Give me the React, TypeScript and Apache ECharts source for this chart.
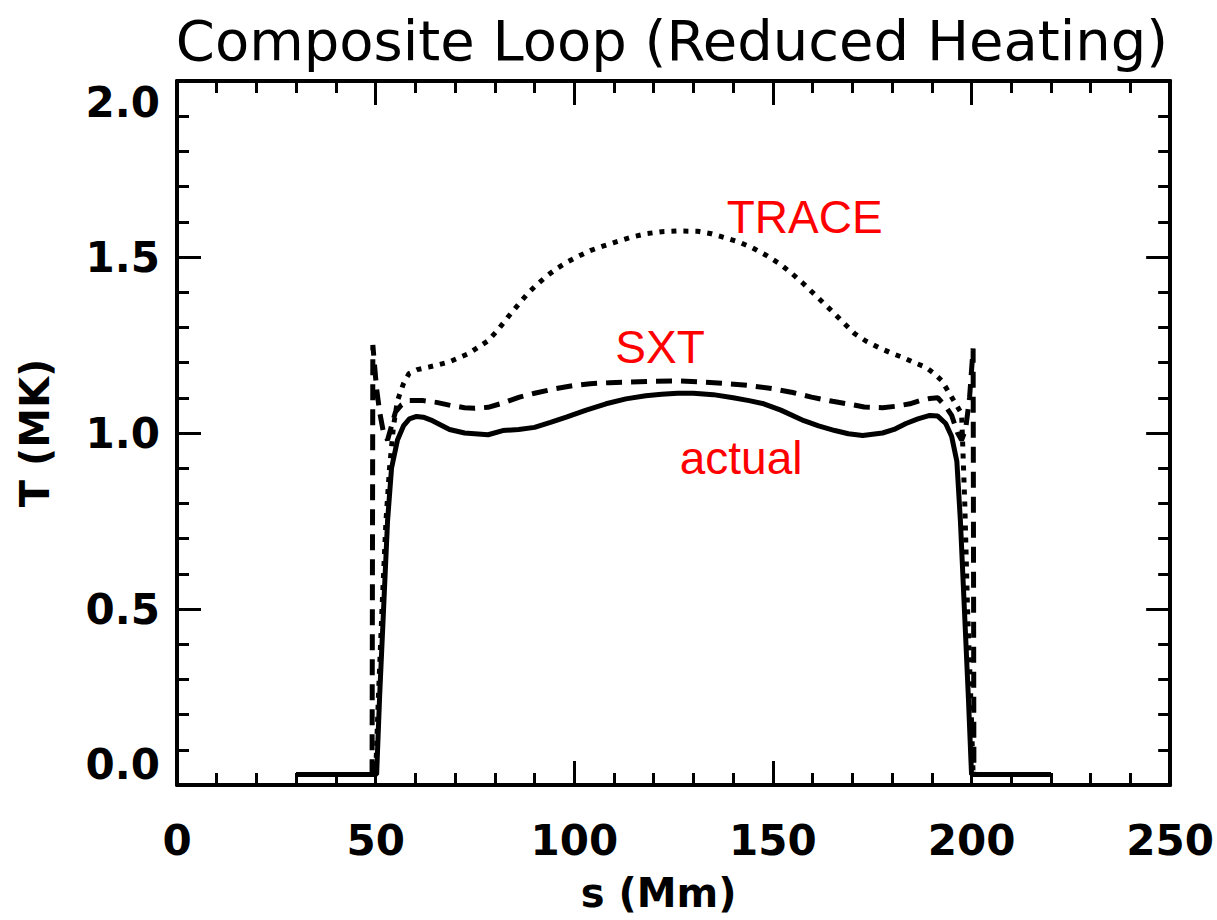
import React, { useEffect, useRef } from "react";
import * as echarts from "echarts";

// s (Mm), T (MK)
const actual: [number, number][] = [
  [30, 0.03], [50.25, 0.03], [51, 0.25], [52, 0.5], [53, 0.75], [54, 0.9], [55.5, 0.98], [57, 1.02],
  [58.5, 1.04], [60.3, 1.047], [62, 1.045], [64.3, 1.035], [68.6, 1.01], [72.4, 1.0], [78.3, 0.995],
  [82, 1.007], [86, 1.01], [90, 1.016], [94, 1.03], [98, 1.045], [103, 1.065], [108, 1.083],
  [113, 1.097], [118, 1.106], [122, 1.11], [126, 1.113], [130, 1.113], [135, 1.109], [140, 1.1],
  [144, 1.092], [147.7, 1.083], [152, 1.065], [157.8, 1.035], [161.5, 1.02], [165.6, 1.007],
  [169, 0.998], [172.6, 0.993], [177.6, 1.0], [180.5, 1.01], [183.5, 1.027], [186.5, 1.04],
  [189.5, 1.05], [191.5, 1.048], [193.5, 1.027], [195, 0.99], [196.3, 0.92], [197.2, 0.75],
  [198.2, 0.5], [199.2, 0.25], [200, 0.03], [220, 0.03],
];

const sxt: [number, number][] = [
  [30, 0.03], [49.1, 0.03], [49.3, 1.25], [50.2, 1.13], [51, 1.06], [52, 1.0], [53, 0.98],
  [54, 1.02], [55, 1.06], [56.5, 1.08], [58.4, 1.092], [62, 1.092], [65.3, 1.087], [69, 1.078],
  [72.4, 1.072], [75, 1.07], [78.3, 1.073], [82, 1.085], [86.2, 1.102], [90, 1.113], [95.2, 1.126],
  [100, 1.135], [104, 1.14], [109, 1.143], [114, 1.145], [120, 1.147], [126, 1.148], [132, 1.145],
  [137.9, 1.141], [144, 1.135], [149.8, 1.126], [155, 1.115], [159.7, 1.102], [165, 1.09],
  [169.6, 1.081], [173, 1.074], [177.6, 1.072], [181, 1.076], [184.5, 1.083], [187, 1.092],
  [189.5, 1.098], [191.5, 1.1], [193.5, 1.075], [195, 1.05], [196.5, 1.0], [197.5, 0.98],
  [198.5, 1.01], [199.5, 1.1], [200.4, 1.24], [200.6, 0.03], [220, 0.03],
];

const trace: [number, number][] = [
  [30, 0.03], [50.0, 0.03], [50.7, 0.25], [51.6, 0.5], [52.6, 0.75], [53.5, 0.9], [54.5, 1.02],
  [55.5, 1.092], [57, 1.14], [58.4, 1.169], [60.5, 1.18], [63.3, 1.187], [68.3, 1.201],
  [73.3, 1.225], [78.3, 1.262], [80.8, 1.293], [83.2, 1.328], [85.7, 1.362], [88.2, 1.395],
  [90.7, 1.423], [93.2, 1.447], [95.7, 1.468], [98.1, 1.485], [101, 1.502], [104, 1.518],
  [107, 1.53], [110, 1.541], [114, 1.555], [118, 1.566], [122, 1.572], [126, 1.574], [131, 1.573],
  [134.5, 1.566], [137.9, 1.555], [141.3, 1.543], [144.7, 1.527], [148.3, 1.505], [151.8, 1.48],
  [154.8, 1.453], [157.7, 1.424], [161.2, 1.386], [164.7, 1.348], [167.7, 1.314], [170.6, 1.282],
  [173.6, 1.26], [176.6, 1.243], [179.6, 1.228], [182.6, 1.215], [185.6, 1.2], [188.5, 1.187],
  [190.5, 1.17], [192.5, 1.149], [195, 1.102], [197.5, 1.055], [198.3, 0.8], [199, 0.5],
  [199.8, 0.25], [200.4, 0.03], [220, 0.03],
];

// annotation labels: [s, T, text]
const annotations: [number, number, string][] = [
  [158, 1.614, "TRACE"],
  [121.6, 1.243, "SXT"],
  [142, 0.928, "actual"],
];

const xTicks = { min: 0, max: 250, interval: 50 };
const yTicks = { min: 0, max: 2, interval: 0.5 };

const FONT = "DejaVu Sans";

export default function App() {
  const ref = useRef<HTMLDivElement>(null);
  useEffect(() => {
    if (!ref.current) return;
    const chart = echarts.init(ref.current, undefined, { renderer: "svg" });
    const axisCommon = {
      axisLine: { show: true, onZero: false, lineStyle: { color: "#000", width: 4 } },
      axisTick: { show: true, inside: true, length: 24, lineStyle: { color: "#000", width: 3 } },
      minorTick: { show: true, splitNumber: 5, length: 12, lineStyle: { color: "#000", width: 3 } },
      splitLine: { show: false },
      minorSplitLine: { show: false },
    };
    const labelStyle = { fontFamily: FONT, fontWeight: "bold" as const, fontSize: 42, color: "#000" };
    chart.setOption({
      animation: false,
      backgroundColor: "#fff",
      grid: { left: 177, right: 45, top: 81, bottom: 135, containLabel: false },
      graphic: [
        {
          type: "text",
          x: 672,
          y: 40,
          style: {
            text: "Composite Loop (Reduced Heating)",
            fontFamily: FONT,
            fontSize: 56,
            fill: "#000",
            textAlign: "center",
            textVerticalAlign: "middle",
          },
        },
      ],
      xAxis: [
        {
          type: "value",
          position: "bottom",
          ...xTicks,
          ...axisCommon,
          axisLabel: { ...labelStyle, margin: 34 },
          name: "s (Mm)",
          nameLocation: "middle",
          nameGap: 88,
          nameTextStyle: { fontFamily: FONT, fontWeight: "bold", fontSize: 40, color: "#000", padding: [0, 30, 0, 0] },
        },
        {
          type: "value",
          position: "top",
          ...xTicks,
          ...axisCommon,
          axisLabel: { show: false },
        },
      ],
      yAxis: [
        {
          type: "value",
          position: "left",
          ...yTicks,
          ...axisCommon,
          axisLabel: {
            ...labelStyle,
            margin: 17,
            formatter: (v: number) => v.toFixed(1),
            verticalAlignMinLabel: "bottom",
            verticalAlignMaxLabel: "top",
          },
          name: "T (MK)",
          nameLocation: "middle",
          nameGap: 122,
          nameTextStyle: { fontFamily: FONT, fontWeight: "bold", fontSize: 40, color: "#000" },
        },
        {
          type: "value",
          position: "right",
          ...yTicks,
          ...axisCommon,
          axisLabel: { show: false },
        },
      ],
      series: [
        {
          type: "line",
          name: "actual",
          data: actual,
          showSymbol: false,
          lineStyle: { color: "#000", width: 5, type: "solid" },
          z: 3,
        },
        {
          type: "line",
          name: "SXT",
          data: sxt,
          showSymbol: false,
          lineStyle: { color: "#000", width: 5, type: [16, 9] },
          z: 3,
        },
        {
          type: "line",
          name: "TRACE",
          data: trace,
          showSymbol: false,
          lineStyle: { color: "#000", width: 5, type: [5, 7] },
          z: 3,
        },
        {
          type: "scatter",
          name: "labels",
          data: annotations.map((a) => ({ value: [a[0], a[1]], name: a[2] })),
          symbolSize: 0,
          silent: true,
          itemStyle: { opacity: 1 },
          label: {
            show: true,
            position: "inside",
            formatter: (p: any) => p.name,
            fontFamily: "Liberation Sans",
            fontSize: 46,
            color: "#ff0000",
            opacity: 1,
            align: "center",
            verticalAlign: "middle",
          },
          z: 4,
        },
      ],
    });
    return () => chart.dispose();
  }, []);
  return (
    <div
      ref={ref}
      style={{ position: "absolute", left: 0, top: 0, width: 1217, height: 920, background: "#fff" }}
    />
  );
}
